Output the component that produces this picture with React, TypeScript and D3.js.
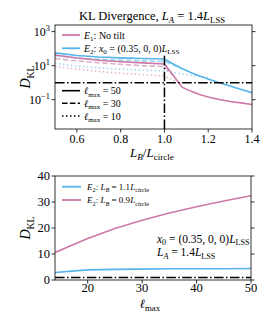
import React from "react";
import * as d3 from "d3";

// ---------- data ----------
const LB_RATIO = [0.5, 0.6, 0.7, 0.8, 0.9, 1.0, 1.04, 1.08, 1.12, 1.16, 1.2, 1.25, 1.3, 1.35, 1.4];
const E1_L50 = [42.7, 28.2, 20.9, 17.0, 14.5, 12.6, 2.75, 0.55, 0.32, 0.2, 0.145, 0.102, 0.079, 0.065, 0.052];
const E2_L50 = [56.2, 39.8, 32.4, 28.8, 26.3, 24.5, 12.6, 6.9, 4.0, 2.5, 1.66, 1.0, 0.63, 0.4, 0.26];
const E1_L30 = [26.3, 19.1, 14.8, 12.0, 10.0, 8.9, 2.6, null, null, null, null, null, null, null, null];
const E2_L30 = [39.8, 28.2, 23.4, 20.9, 19.1, 17.8, 11.2, 6.9, null, null, null, null, null, null, null];
const E1_L10 = [8.9, 6.3, 4.6, 3.6, 2.95, 2.45, 1.41, 0.89, null, null, null, null, null, null, null];
const E2_L10 = [13.5, 9.5, 7.4, 6.2, 5.4, 4.9, 4.0, 3.3, 2.75, 2.3, 2.0, null, null, null, null];
const X_TICKS_TOP = [0.6, 0.8, 1.0, 1.2, 1.4];
const Y_TICK_EXP_TOP = [3, 1, -1];
const THRESHOLD = 1;
const VLINE_X = 1.0;
const VLINE_TOP = 50;

const LMAX = [14, 20, 25, 30, 35, 40, 45, 50];
const E2_LB09 = [10.6, 16.0, 19.8, 23.0, 25.8, 28.2, 30.4, 32.4];
const E2_LB11 = [2.9, 3.9, 4.1, 4.2, 4.3, 4.3, 4.35, 4.4];
const X_TICKS_BOT = [20, 30, 40, 50];
const Y_TICKS_BOT = [0, 10, 20, 30, 40];

// ---------- style ----------
const PINK = "#CC79A7";
const BLUE = "#56B4E9";
const FONT = "Liberation Serif, Times New Roman, DejaVu Serif, serif";
const DASHDOT = "9.6 2.4 1.5 2.4";
const DASHED = "5.5 2.4";
const DOTTED = "1.5 2.5";

type Seg = { t: string; i?: boolean; sub?: boolean; sup?: boolean };

function MText({ x, y, segs, size, anchor = "start", transform }: { x: number; y: number; segs: Seg[]; size: number; anchor?: string; transform?: string }) {
  let level = 0;
  const out: React.ReactNode[] = [];
  const subOff = size * 0.25;
  const supOff = size * 0.42;
  const pos = (l: number) => (l === 1 ? subOff : l === -1 ? -supOff : 0);
  segs.forEach((s, k) => {
    const target = s.sub ? 1 : s.sup ? -1 : 0;
    const dy = pos(target) - pos(level);
    level = target;
    out.push(
      <tspan key={k} dy={dy} fontStyle={s.i ? "italic" : "normal"} fontSize={target !== 0 ? size * 0.7 : size}>
        {s.t}
      </tspan>
    );
  });
  return (
    <text x={x} y={y} style={{ fontFamily: FONT }} fontSize={size} textAnchor={anchor} transform={transform} fill="#000">
      {out}
    </text>
  );
}

function PlainText({ x, y, size, anchor, children }: { x: number; y: number; size: number; anchor: string; children: React.ReactNode }) {
  return (
    <text x={x} y={y} style={{ fontFamily: FONT }} fontSize={size} textAnchor={anchor} fill="#000">
      {children}
    </text>
  );
}

export default function App() {
  // top axes
  const T = { l: 55, r: 252, t: 25, b: 129 };
  const xT = d3.scaleLinear().domain([0.5, 1.4]).range([T.l, T.r]);
  const yT = d3.scaleLog().domain([1.9e-3, 2.45e3]).range([T.b, T.t]);
  const lineT = (vals: (number | null)[]) =>
    d3
      .line<number>()
      .defined((_, i) => vals[i] != null)
      .x((_, i) => xT(LB_RATIO[i]))
      .y((_, i) => yT(vals[i] as number))(LB_RATIO) || "";

  // bottom axes
  const B = { l: 55, r: 251, t: 176, b: 280 };
  const xB = d3.scaleLinear().domain([14, 50]).range([B.l, B.r]);
  const yB = d3.scaleLinear().domain([0, 40]).range([B.b, B.t]);
  const lineB = (vals: number[]) =>
    d3
      .line<number>()
      .x((d) => xB(d))
      .y((_, i) => yB(vals[i]))(LMAX) || "";

  const topSeries = [
    { v: E2_L10, c: BLUE, dash: DOTTED, o: 0.55 },
    { v: E1_L10, c: PINK, dash: DOTTED, o: 0.55 },
    { v: E2_L30, c: BLUE, dash: DASHED, o: 0.6 },
    { v: E1_L30, c: PINK, dash: DASHED, o: 0.6 },
    { v: E2_L50, c: BLUE, dash: undefined, o: 1 },
    { v: E1_L50, c: PINK, dash: undefined, o: 1 },
  ];

  const ell = "\u2113";

  return (
    <svg width={269} height={323} style={{ position: "absolute", left: 0, top: 0, background: "#fff" }}>
      <defs>
        <clipPath id="clipT">
          <rect x={T.l} y={T.t} width={T.r - T.l} height={T.b - T.t} />
        </clipPath>
        <clipPath id="clipB">
          <rect x={B.l} y={B.t} width={B.r - B.l} height={B.b - B.t} />
        </clipPath>
      </defs>

      {/* ===== TOP ===== */}
      <MText
        x={152}
        y={20}
        size={12.5}
        anchor="middle"
        segs={[
          { t: "KL Divergence, " },
          { t: "L", i: true },
          { t: "A", i: true, sub: true },
          { t: " = 1.4" },
          { t: "L", i: true },
          { t: "LSS", sub: true },
        ]}
      />
      <g clipPath="url(#clipT)">
        {topSeries.map((s, k) => (
          <path key={k} d={lineT(s.v)} fill="none" stroke={s.c} strokeOpacity={s.o} strokeWidth={1.6} strokeDasharray={s.dash} />
        ))}
        <line x1={T.l} x2={T.r} y1={yT(THRESHOLD)} y2={yT(THRESHOLD)} stroke="#000" strokeWidth={1.5} strokeDasharray={DASHDOT} />
        <line x1={xT(VLINE_X)} x2={xT(VLINE_X)} y1={T.b} y2={yT(VLINE_TOP)} stroke="#000" strokeWidth={1.5} strokeDasharray={DASHDOT} />
      </g>
      <rect x={T.l} y={T.t} width={T.r - T.l} height={T.b - T.t} fill="none" stroke="#000" strokeWidth={0.8} />
      {X_TICKS_TOP.map((t) => (
        <g key={t}>
          <line x1={xT(t)} x2={xT(t)} y1={T.b} y2={T.b + 3.5} stroke="#000" strokeWidth={0.8} />
          <PlainText x={xT(t)} y={142.5} size={12} anchor="middle">
            {t.toFixed(1)}
          </PlainText>
        </g>
      ))}
      {Y_TICK_EXP_TOP.map((e) => (
        <g key={e}>
          <line x1={T.l - 3.5} x2={T.l} y1={yT(10 ** e)} y2={yT(10 ** e)} stroke="#000" strokeWidth={0.8} />
          <line x1={T.r} x2={T.r + 3.5} y1={yT(10 ** e)} y2={yT(10 ** e)} stroke="#000" strokeWidth={0.8} />
          <MText
            x={50}
            y={yT(10 ** e) + 4}
            size={12}
            anchor="end"
            segs={[{ t: "10" }, { t: e < 0 ? "\u2212" + Math.abs(e) : String(e), sup: true }]}
          />
        </g>
      ))}
      <MText
        x={152}
        y={157}
        size={13}
        anchor="middle"
        segs={[{ t: "L", i: true }, { t: "B", i: true, sub: true }, { t: "/" }, { t: "L", i: true }, { t: "circle", sub: true }]}
      />
      <MText
        x={0}
        y={0}
        size={14}
        anchor="middle"
        transform={`translate(30,${(T.t + T.b) / 2}) rotate(-90)`}
        segs={[{ t: "D", i: true }, { t: "KL", sub: true }]}
      />
      {/* legend 1 */}
      <line x1={62} x2={80} y1={35} y2={35} stroke={PINK} strokeWidth={1.8} />
      <MText x={84} y={38.5} size={10} segs={[{ t: "E", i: true }, { t: "1", sub: true }, { t: ": No tilt" }]} />
      <line x1={62} x2={80} y1={48.3} y2={48.3} stroke={BLUE} strokeWidth={1.8} />
      <MText
        x={84}
        y={51.8}
        size={10}
        segs={[
          { t: "E", i: true },
          { t: "2", sub: true },
          { t: ": " },
          { t: "x", i: true },
          { t: "0", sub: true },
          { t: " = (0.35, 0, 0)" },
          { t: "L", i: true },
          { t: "LSS", sub: true },
        ]}
      />
      {/* legend 2 */}
      {[
        { y: 90.7, dash: undefined, v: "50" },
        { y: 103.3, dash: DASHED, v: "30" },
        { y: 116, dash: DOTTED, v: "10" },
      ].map((r) => (
        <g key={r.v}>
          <line x1={62} x2={80} y1={r.y} y2={r.y} stroke="#000" strokeWidth={1.6} strokeDasharray={r.dash} />
          <MText x={84} y={r.y + 3.5} size={10} segs={[{ t: ell, i: true }, { t: "max", sub: true }, { t: " = " + r.v }]} />
        </g>
      ))}

      {/* ===== BOTTOM ===== */}
      <g clipPath="url(#clipB)">
        <path d={lineB(E2_LB11)} fill="none" stroke={BLUE} strokeWidth={1.6} />
        <path d={lineB(E2_LB09)} fill="none" stroke={PINK} strokeWidth={1.6} />
        <line x1={B.l} x2={B.r} y1={yB(THRESHOLD)} y2={yB(THRESHOLD)} stroke="#000" strokeWidth={1.5} strokeDasharray={DASHDOT} />
      </g>
      <rect x={B.l} y={B.t} width={B.r - B.l} height={B.b - B.t} fill="none" stroke="#000" strokeWidth={0.8} />
      {X_TICKS_BOT.map((t) => (
        <g key={t}>
          <line x1={xB(t)} x2={xB(t)} y1={B.b} y2={B.b + 3.5} stroke="#000" strokeWidth={0.8} />
          <PlainText x={xB(t)} y={292} size={12.5} anchor="middle">
            {t}
          </PlainText>
        </g>
      ))}
      {Y_TICKS_BOT.map((t) => (
        <g key={t}>
          <line x1={B.l - 3.5} x2={B.l} y1={yB(t)} y2={yB(t)} stroke="#000" strokeWidth={0.8} />
          <line x1={B.r} x2={B.r + 3.5} y1={yB(t)} y2={yB(t)} stroke="#000" strokeWidth={0.8} />
          <PlainText x={50} y={yB(t) + 4.3} size={12.5} anchor="end">
            {t}
          </PlainText>
        </g>
      ))}
      <MText x={150} y={308} size={12.5} anchor="middle" segs={[{ t: ell, i: true }, { t: "max", sub: true }]} />
      <MText
        x={0}
        y={0}
        size={14}
        anchor="middle"
        transform={`translate(30,${(B.t + B.b) / 2}) rotate(-90)`}
        segs={[{ t: "D", i: true }, { t: "KL", sub: true }]}
      />
      {/* legend bottom */}
      <line x1={62} x2={81} y1={186.7} y2={186.7} stroke={BLUE} strokeWidth={1.8} />
      <MText
        x={87}
        y={190}
        size={9}
        segs={[
          { t: "E", i: true },
          { t: "2", sub: true },
          { t: ": " },
          { t: "L", i: true },
          { t: "B", i: true, sub: true },
          { t: " = 1.1" },
          { t: "L", i: true },
          { t: "circle", sub: true },
        ]}
      />
      <line x1={62} x2={81} y1={200} y2={200} stroke={PINK} strokeWidth={1.8} />
      <MText
        x={87}
        y={203.3}
        size={9}
        segs={[
          { t: "E", i: true },
          { t: "2", sub: true },
          { t: ": " },
          { t: "L", i: true },
          { t: "B", i: true, sub: true },
          { t: " = 0.9" },
          { t: "L", i: true },
          { t: "circle", sub: true },
        ]}
      />
      {/* annotation */}
      <MText
        x={157}
        y={242.5}
        size={11.5}
        segs={[{ t: "x", i: true }, { t: "0", sub: true }, { t: " = (0.35, 0, 0)" }, { t: "L", i: true }, { t: "LSS", sub: true }]}
      />
      <MText
        x={157}
        y={256}
        size={11.5}
        segs={[{ t: "L", i: true }, { t: "A", i: true, sub: true }, { t: " = 1.4" }, { t: "L", i: true }, { t: "LSS", sub: true }]}
      />
    </svg>
  );
}
